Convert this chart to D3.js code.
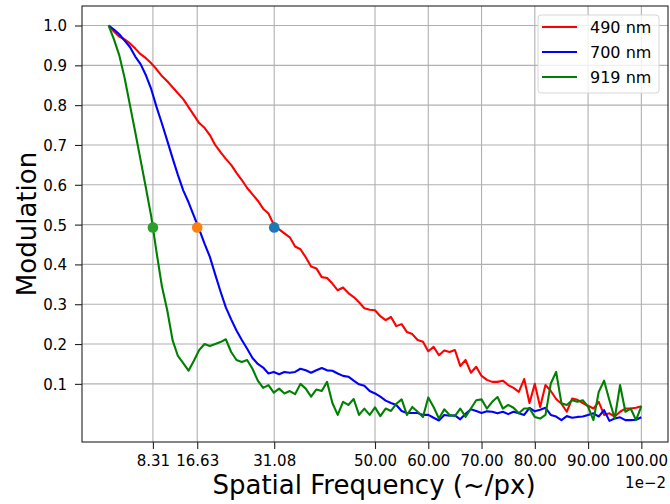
<!DOCTYPE html>
<html>
<head>
<meta charset="utf-8">
<script src="https://cdn.jsdelivr.net/npm/d3@7"></script>
<style>
  body { margin: 0; background: #fff; }
  svg text { font-family: "DejaVu Sans", sans-serif; fill: #000; }
</style>
</head>
<body>
<svg id="chart" width="670" height="504"></svg>
<script>
// Chart data
// frequency in units of 1e-2 cycles/px
const freqs = d3.range(0, 101)

const mod490 = [
  1.000, 0.985, 0.972, 0.965, 0.955, 0.942, 0.928, 0.918, 0.905, 0.890,
  0.873, 0.860, 0.845, 0.830, 0.815, 0.795, 0.775, 0.755, 0.743, 0.725,
  0.700, 0.682, 0.665, 0.650, 0.630, 0.612, 0.592, 0.576, 0.560, 0.540,
  0.528, 0.500, 0.488, 0.478, 0.468, 0.445, 0.438, 0.418, 0.395, 0.390,
  0.368, 0.366, 0.352, 0.335, 0.342, 0.328, 0.318, 0.305, 0.290, 0.286,
  0.285, 0.270, 0.260, 0.268, 0.245, 0.250, 0.230, 0.225, 0.210, 0.206,
  0.182, 0.193, 0.172, 0.184, 0.180, 0.185, 0.145, 0.160, 0.128, 0.143,
  0.120, 0.110, 0.105, 0.105, 0.108, 0.097, 0.090, 0.080, 0.112, 0.052,
  0.100, 0.042, 0.097, 0.082, 0.062, 0.050, 0.030, 0.063, 0.060, 0.052,
  0.045, 0.038, 0.055, 0.022, 0.026, 0.018, 0.030, 0.038, 0.038, 0.040,
  0.044
]

const mod700 = [
  1.000, 0.990, 0.978, 0.962, 0.946, 0.922, 0.903, 0.875, 0.840, 0.795,
  0.754, 0.711, 0.667, 0.625, 0.586, 0.556, 0.522, 0.488, 0.452, 0.419,
  0.375, 0.332, 0.292, 0.262, 0.234, 0.210, 0.188, 0.165, 0.150, 0.141,
  0.126, 0.130, 0.124, 0.130, 0.128, 0.130, 0.138, 0.134, 0.128, 0.134,
  0.140, 0.134, 0.133, 0.126, 0.120, 0.118, 0.108, 0.099, 0.095, 0.082,
  0.076, 0.068, 0.058, 0.052, 0.047, 0.032, 0.027, 0.027, 0.027, 0.022,
  0.022, 0.015, 0.008, 0.022, 0.020, 0.021, 0.011, 0.025, 0.036, 0.032,
  0.027, 0.031, 0.030, 0.026, 0.030, 0.024, 0.030, 0.026, 0.022, 0.040,
  0.031, 0.035, 0.040, 0.022, 0.018, 0.009, 0.019, 0.015, 0.017, 0.018,
  0.022, 0.026, 0.018, 0.034, 0.007, 0.013, 0.016, 0.009, 0.009, 0.010,
  0.016
]

const mod919 = [
  1.000, 0.965, 0.925, 0.868, 0.800, 0.732, 0.662, 0.592, 0.520, 0.430,
  0.345, 0.285, 0.210, 0.170, 0.152, 0.133, 0.158, 0.185, 0.200, 0.195,
  0.200, 0.205, 0.212, 0.180, 0.160, 0.155, 0.160, 0.138, 0.108, 0.090,
  0.097, 0.078, 0.088, 0.076, 0.082, 0.074, 0.100, 0.088, 0.068, 0.086,
  0.082, 0.105, 0.052, 0.022, 0.055, 0.047, 0.062, 0.022, 0.038, 0.022,
  0.041, 0.019, 0.038, 0.032, 0.050, 0.061, 0.022, 0.042, 0.030, 0.017,
  0.066, 0.042, 0.013, 0.036, 0.022, 0.019, 0.038, 0.017, 0.038, 0.059,
  0.061, 0.038, 0.055, 0.067, 0.038, 0.047, 0.040, 0.026, 0.038, 0.038,
  0.017, 0.013, 0.022, 0.101, 0.130, 0.051, 0.047, 0.059, 0.055, 0.059,
  0.042, 0.009, 0.080, 0.108, 0.059, 0.013, 0.097, 0.030, 0.038, 0.009,
  0.044
]

const seriesNames = ['490 nm', '700 nm', '919 nm']
const seriesColors = ['red', 'blue', 'green']

// MTF50 markers
const mtf50Freqs = [31.08, 16.63, 8.31]
const mtf50Values = [0.493, 0.493, 0.493]
const mtf50Colors = ['#1f77b4', '#ff7f0e', '#2ca02c']

const xTicks = [8.31, 16.63, 31.08, 50, 60, 70, 80, 90, 100]
const yTicks = [0.1, 0.2, 0.3, 0.4, 0.5, 0.6, 0.7, 0.8, 0.9, 1.0]

// Layout
const plot = { left: 82, top: 6, right: 668, bottom: 442 }

const svg = d3.select('#chart')

const x = d3.scaleLinear().domain([-5, 105]).range([plot.left, plot.right])
const y = d3.scaleLinear().domain([-0.046, 1.049]).range([plot.bottom, plot.top])

// Grid
const grid = svg.append('g').attr('class', 'grid')
grid.selectAll('line.vx')
  .data(xTicks)
  .join('line')
  .attr('x1', d => x(d)).attr('x2', d => x(d))
  .attr('y1', plot.top).attr('y2', plot.bottom)
  .style('stroke', '#b0b0b0').style('stroke-width', 1.1)
grid.selectAll('line.hy')
  .data(yTicks)
  .join('line')
  .attr('y1', d => y(d)).attr('y2', d => y(d))
  .attr('x1', plot.left).attr('x2', plot.right)
  .style('stroke', '#b0b0b0').style('stroke-width', 1.1)

// Axes
const xAxis = d3.axisBottom(x)
  .tickValues(xTicks)
  .tickFormat(d3.format('.2f'))
  .tickSize(7)
  .tickPadding(6)
const yAxis = d3.axisLeft(y)
  .tickValues(yTicks)
  .tickFormat(d3.format('.1f'))
  .tickSize(7)
  .tickPadding(8)

const gx = svg.append('g')
  .attr('transform', 'translate(0,' + plot.bottom + ')')
  .call(xAxis)
const gy = svg.append('g')
  .attr('transform', 'translate(' + plot.left + ',0)')
  .call(yAxis)

;[gx, gy].forEach(g => {
  g.select('.domain').remove()
  g.selectAll('.tick line').style('stroke', '#222').style('stroke-width', 1.1)
  g.selectAll('.tick text')
    .style('font-size', '15px')
    .style('font-family', '"DejaVu Sans", sans-serif')
    .attr('fill', '#000')
})
gy.selectAll('.tick text').attr('dy', '0.36em')

// Lines
const line = d3.line()
  .x((d, i) => x(freqs[i]))
  .y(d => y(d))

const allSeries = [mod490, mod700, mod919]
svg.append('g').selectAll('path')
  .data(allSeries)
  .join('path')
  .attr('d', d => line(d))
  .style('fill', 'none')
  .style('stroke', (d, i) => seriesColors[i])
  .style('stroke-width', 2.1)
  .style('stroke-linejoin', 'round')

// MTF50 dots
svg.append('g').selectAll('circle')
  .data(mtf50Freqs)
  .join('circle')
  .attr('cx', d => x(d))
  .attr('cy', (d, i) => y(mtf50Values[i]))
  .attr('r', 5.3)
  .style('fill', (d, i) => mtf50Colors[i])

// Frame
svg.append('rect')
  .attr('x', plot.left).attr('y', plot.top)
  .attr('width', plot.right - plot.left)
  .attr('height', plot.bottom - plot.top)
  .style('fill', 'none')
  .style('stroke', '#222')
  .style('stroke-width', 1.1)

// Legend
const legend = svg.append('g').attr('class', 'legend')
legend.append('rect')
  .attr('x', 538).attr('y', 15)
  .attr('width', 121).attr('height', 78)
  .attr('rx', 3)
  .style('fill', '#fff').style('fill-opacity', 0.8)
  .style('stroke', '#d6d6d6').style('stroke-width', 1)

seriesNames.forEach((name, i) => {
  const ly = 27 + i * 25
  legend.append('line')
    .attr('x1', 542).attr('x2', 577)
    .attr('y1', ly).attr('y2', ly)
    .style('stroke', seriesColors[i])
    .style('stroke-width', 2.1)
  legend.append('text')
    .attr('x', 590).attr('y', ly + 5.8)
    .style('font-size', '16px')
    .text(name)
})

// Axis labels
svg.append('text')
  .attr('text-anchor', 'middle')
  .attr('transform', 'translate(' + ((plot.left + plot.right) / 2 - 1) + ', 494)')
  .style('font-size', '26px')
  .text('Spatial Frequency (~/px)')

svg.append('text')
  .attr('text-anchor', 'middle')
  .attr('transform', 'translate(36,' + ((plot.top + plot.bottom) / 2) + ') rotate(-90)')
  .style('font-size', '26px')
  .text('Modulation')

// Offset text
svg.append('text')
  .attr('text-anchor', 'end')
  .attr('x', 666).attr('y', 488)
  .style('font-size', '15px')
  .text('1e\u22122')
</script>
</body>
</html>
